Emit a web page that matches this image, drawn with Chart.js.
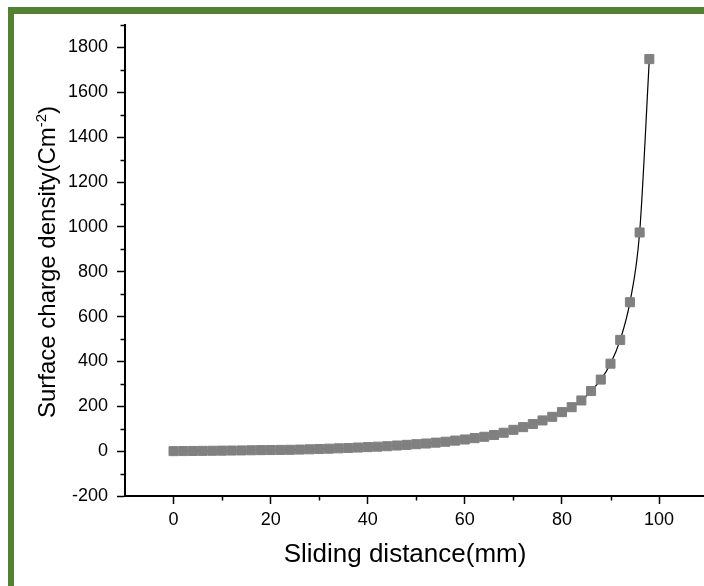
<!DOCTYPE html>
<html>
<head>
<meta charset="utf-8">
<script src="https://cdn.jsdelivr.net/npm/chart.js@4"></script>
<style>
  html, body { margin: 0; padding: 0; background: #fff; overflow: hidden; width: 704px; height: 586px; }
  #wrap { position: absolute; left: 0; top: 0; width: 720px; height: 586px; }
  #frame { position: absolute; left: 8px; top: 7px; width: 720px; height: 600px;
           border-left: 6px solid #548235; border-top: 7px solid #548235; pointer-events: none; }
</style>
</head>
<body>
<div id="wrap"><canvas id="chart" width="720" height="586"></canvas></div>
<div id="frame"></div>
<script>
// Sliding distance (mm) and the resulting surface charge density
const distance = [0, 2, 4, 6, 8, 10, 12, 14, 16, 18, 20, 22, 24, 26, 28, 30, 32, 34, 36, 38,
                  40, 42, 44, 46, 48, 50, 52, 54, 56, 58, 60, 62, 64, 66, 68, 70, 72, 74, 76, 78,
                  80, 82, 84, 86, 88, 90, 92, 94, 96, 98];
const chargeDensity = [0, 0.4, 0.8, 1.2, 1.7, 2.2, 2.7, 3.2, 3.8, 4.5, 5, 5.5, 6, 7, 8, 9.5, 11, 12.5, 14, 16,
                       18, 20, 22, 25, 28, 31, 34, 38, 42, 47, 52, 58, 64, 72, 82, 95, 107, 121, 137, 153,
                       174, 196, 226, 268, 319, 390, 496, 664, 975, 1748];

// Axis ticks
const xTicks = [0, 20, 40, 60, 80, 100];
const xMinorTicks = [10, 30, 50, 70, 90];
const yTicks = [-200, 0, 200, 400, 600, 800, 1000, 1200, 1400, 1600, 1800];
const yMinorTicks = [-100, 100, 300, 500, 700, 900, 1100, 1300, 1500, 1700, 1900];

const xTitle = 'Sliding distance(mm)';
const yTitleMain = 'Surface charge density(Cm';
const yTitleSup = '-2';
const yTitleEnd = ')';

const FONT = '"Liberation Sans", Arial, sans-serif';

// Minor tick marks and axis titles
const axisDecor = {
  id: 'axisDecor',
  afterDraw(chart) {
    const { ctx, chartArea, scales } = chart;
    const xs = scales.x, ys = scales.y;
    ctx.save();
    ctx.strokeStyle = '#000';
    ctx.lineWidth = 1.5;
    ctx.beginPath();
    xMinorTicks.forEach(v => {
      const px = Math.round(xs.getPixelForValue(v)) + 0.5;
      ctx.moveTo(px, chartArea.bottom);
      ctx.lineTo(px, chartArea.bottom + 4.5);
    });
    yMinorTicks.forEach(v => {
      const py = Math.round(ys.getPixelForValue(v)) + 0.5;
      ctx.moveTo(chartArea.left, py);
      ctx.lineTo(chartArea.left - 4.5, py);
    });
    ctx.stroke();

    // x title
    ctx.fillStyle = '#000';
    ctx.font = '26px ' + FONT;
    ctx.textAlign = 'center';
    ctx.textBaseline = 'alphabetic';
    ctx.fillText(xTitle, 405, 562);

    // y title with superscript, rotated
    ctx.translate(55, 262);
    ctx.rotate(-Math.PI / 2);
    ctx.textAlign = 'left';
    const mainFont = '24px ' + FONT, supFont = '15px ' + FONT;
    ctx.font = mainFont;
    const w1 = ctx.measureText(yTitleMain).width;
    const w3 = ctx.measureText(yTitleEnd).width;
    ctx.font = supFont;
    const w2 = ctx.measureText(yTitleSup).width;
    let x0 = -(w1 + w2 + w3) / 2;
    ctx.font = mainFont;
    ctx.fillText(yTitleMain, x0, 0);
    ctx.font = supFont;
    ctx.fillText(yTitleSup, x0 + w1, -9);
    ctx.font = mainFont;
    ctx.fillText(yTitleEnd, x0 + w1 + w2, 0);
    ctx.restore();
  }
};

new Chart(document.getElementById('chart'), {
  type: 'line',
  data: {
    datasets: [{
      data: distance.map((d, i) => ({ x: d, y: chargeDensity[i] })),
      borderColor: '#000',
      borderWidth: 1.2,
      cubicInterpolationMode: 'monotone',
      pointStyle: 'rect',
      pointRadius: 6.4,
      pointBackgroundColor: '#808080',
      pointBorderColor: '#808080',
      pointBorderWidth: 1,
      fill: false
    }]
  },
  options: {
    responsive: false,
    animation: false,
    events: [],
    devicePixelRatio: 1,
    layout: { padding: { top: 25, right: 12.4, left: 0, bottom: 0 } },
    plugins: { legend: { display: false }, tooltip: { enabled: false } },
    scales: {
      x: {
        type: 'linear',
        min: -10, max: 110,
        afterBuildTicks: s => { s.ticks = xTicks.map(v => ({ value: v })); },
        afterFit: s => { s.height = 90; },
        grid: { drawOnChartArea: false, drawTicks: true, tickLength: 8, tickColor: '#000', tickWidth: 1.5 },
        border: { display: true, color: '#000', width: 2 },
        ticks: { color: '#000', font: { family: FONT, size: 18 }, padding: 5, maxRotation: 0, autoSkip: false,
                 callback: v => String(v) }
      },
      y: {
        type: 'linear',
        min: -200, max: 1900,
        afterBuildTicks: s => { s.ticks = yTicks.map(v => ({ value: v })); },
        afterFit: s => { s.width = 125; },
        grid: { drawOnChartArea: false, drawTicks: true, tickLength: 8, tickColor: '#000', tickWidth: 1.5 },
        border: { display: true, color: '#000', width: 2 },
        ticks: { color: '#000', font: { family: FONT, size: 18 }, padding: 9, autoSkip: false,
                 callback: v => String(v) }
      }
    }
  },
  plugins: [axisDecor]
});
</script>
</body>
</html>
